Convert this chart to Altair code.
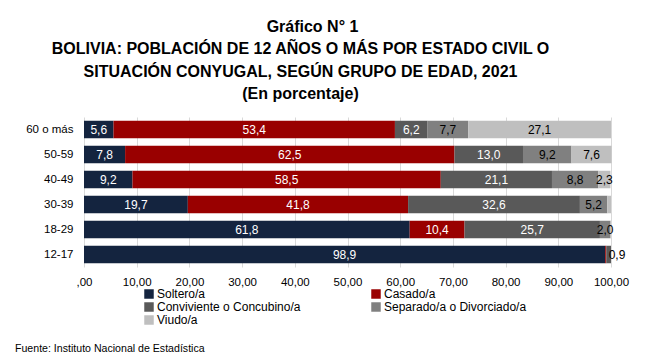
import altair as alt
import pandas as pd

categories = ["60 o más", "50-59", "40-49", "30-39", "18-29", "12-17"]
series_names = ["Soltero/a", "Casado/a", "Conviviente o Concubino/a",
                "Separado/a o Divorciado/a", "Viudo/a"]
soltero = [5.6, 7.8, 9.2, 19.7, 61.8, 98.9]
casado = [53.4, 62.5, 58.5, 41.8, 10.4, 0.2]
conviviente = [6.2, 13.0, 21.1, 32.6, 25.7, 0.9]
separado = [7.7, 9.2, 8.8, 5.2, 2.0, 0.0]
viudo = [27.1, 7.6, 2.3, 0.7, 0.1, 0.0]
colors = ["#14243F", "#990000", "#595959", "#808080", "#BFBFBF"]

rows = []
for k, (name, vals) in enumerate(zip(series_names,
                                     [soltero, casado, conviviente, separado, viudo])):
    for cat, v in zip(categories, vals):
        rows.append({"age": cat, "status": name, "value": v, "order": k})
df = pd.DataFrame(rows)

FONT = "Liberation Sans"
W, H = 527, 150

base = alt.Chart(df).transform_stack(
    stack="value", groupby=["age"], as_=["v0", "v1"],
    sort=[alt.SortField("order", order="ascending")]
).transform_calculate(
    mid="(datum.v0 + datum.v1) / 2",
    lbl="replace(format(datum.value, '.1f'), '.', ',')"
)

y_enc = alt.Y("age:N", sort=categories, title=None,
              scale=alt.Scale(paddingInner=0.3, paddingOuter=0.15),
              axis=alt.Axis(labelFont=FONT, labelFontSize=11.5, labelColor="#000",
                            ticks=False, domain=False, labelPadding=11))

bars = base.mark_bar().encode(
    x=alt.X("v0:Q", title=None, scale=alt.Scale(domain=[0, 100], nice=False),
            axis=alt.Axis(values=list(range(0, 101, 10)), grid=True, gridColor="#D9D9D9",
                          domain=False, ticks=False, labelFlush=False,
                          labelFont=FONT, labelFontSize=11.5, labelColor="#000",
                          labelPadding=9,
                          labelExpr="datum.value == 0 ? ',00' : replace(format(datum.value, '.2f'), '.', ',')")),
    x2="v1:Q",
    y=y_enc,
    color=alt.Color("status:N", sort=series_names,
                    scale=alt.Scale(domain=series_names, range=colors),
                    legend=alt.Legend(title=None, orient="none", legendX=59, legendY=171,
                                      columns=2, direction="horizontal",
                                      columnPadding=69, rowPadding=1,
                                      symbolType="square", symbolSize=90,
                                      symbolStrokeWidth=0, labelFont=FONT,
                                      labelFontSize=12, labelColor="#000",
                                      labelOffset=2)),
    order=alt.Order("order:Q"),
)

text_color = alt.condition("datum.order < 3", alt.value("#FFFFFF"), alt.value("#000000"))

labels = base.transform_filter("datum.value >= 1.5").mark_text(
    font=FONT, fontSize=12, baseline="middle", align="center"
).encode(
    x=alt.X("mid:Q"),
    y=alt.Y("age:N", sort=categories),
    text=alt.Text("lbl:N"),
    color=text_color,
)

small_labels = base.transform_filter("datum.value >= 0.9 && datum.value < 1.5").mark_text(
    font=FONT, fontSize=12, baseline="middle", align="left", color="#000"
).encode(
    x=alt.X("mid:Q"),
    y=alt.Y("age:N", sort=categories),
    text=alt.Text("lbl:N"),
)

source = alt.Chart(pd.DataFrame({"t": ["Fuente: Instituto Nacional de Estadística"]})).mark_text(
    font=FONT, fontSize=10.6, align="left", baseline="middle", color="#000"
).encode(x=alt.value(-69), y=alt.value(H + 82), text="t:N")

PAD = "\u2800"
chart = alt.layer(bars, labels, small_labels, source).properties(
    width=W, height=H,
    title=alt.TitleParams(
        text=[PAD * 2 + "Gráfico N° 1",
              "BOLIVIA: POBLACIÓN DE 12 AÑOS O MÁS POR ESTADO CIVIL O",
              "SITUACIÓN CONYUGAL, SEGÚN GRUPO DE EDAD, 2021",
              "(En porcentaje)"],
        font=FONT, fontSize=16, fontWeight="bold", color="#000",
        anchor="middle", dx=-47, lineHeight=22.5, offset=15),
    padding={"left": 7, "top": 10, "right": 10, "bottom": 0},
).configure_view(stroke=None).configure_axis(labelFont=FONT)

chart.save("out.html", embed_options={"renderer": "svg", "actions": False})
